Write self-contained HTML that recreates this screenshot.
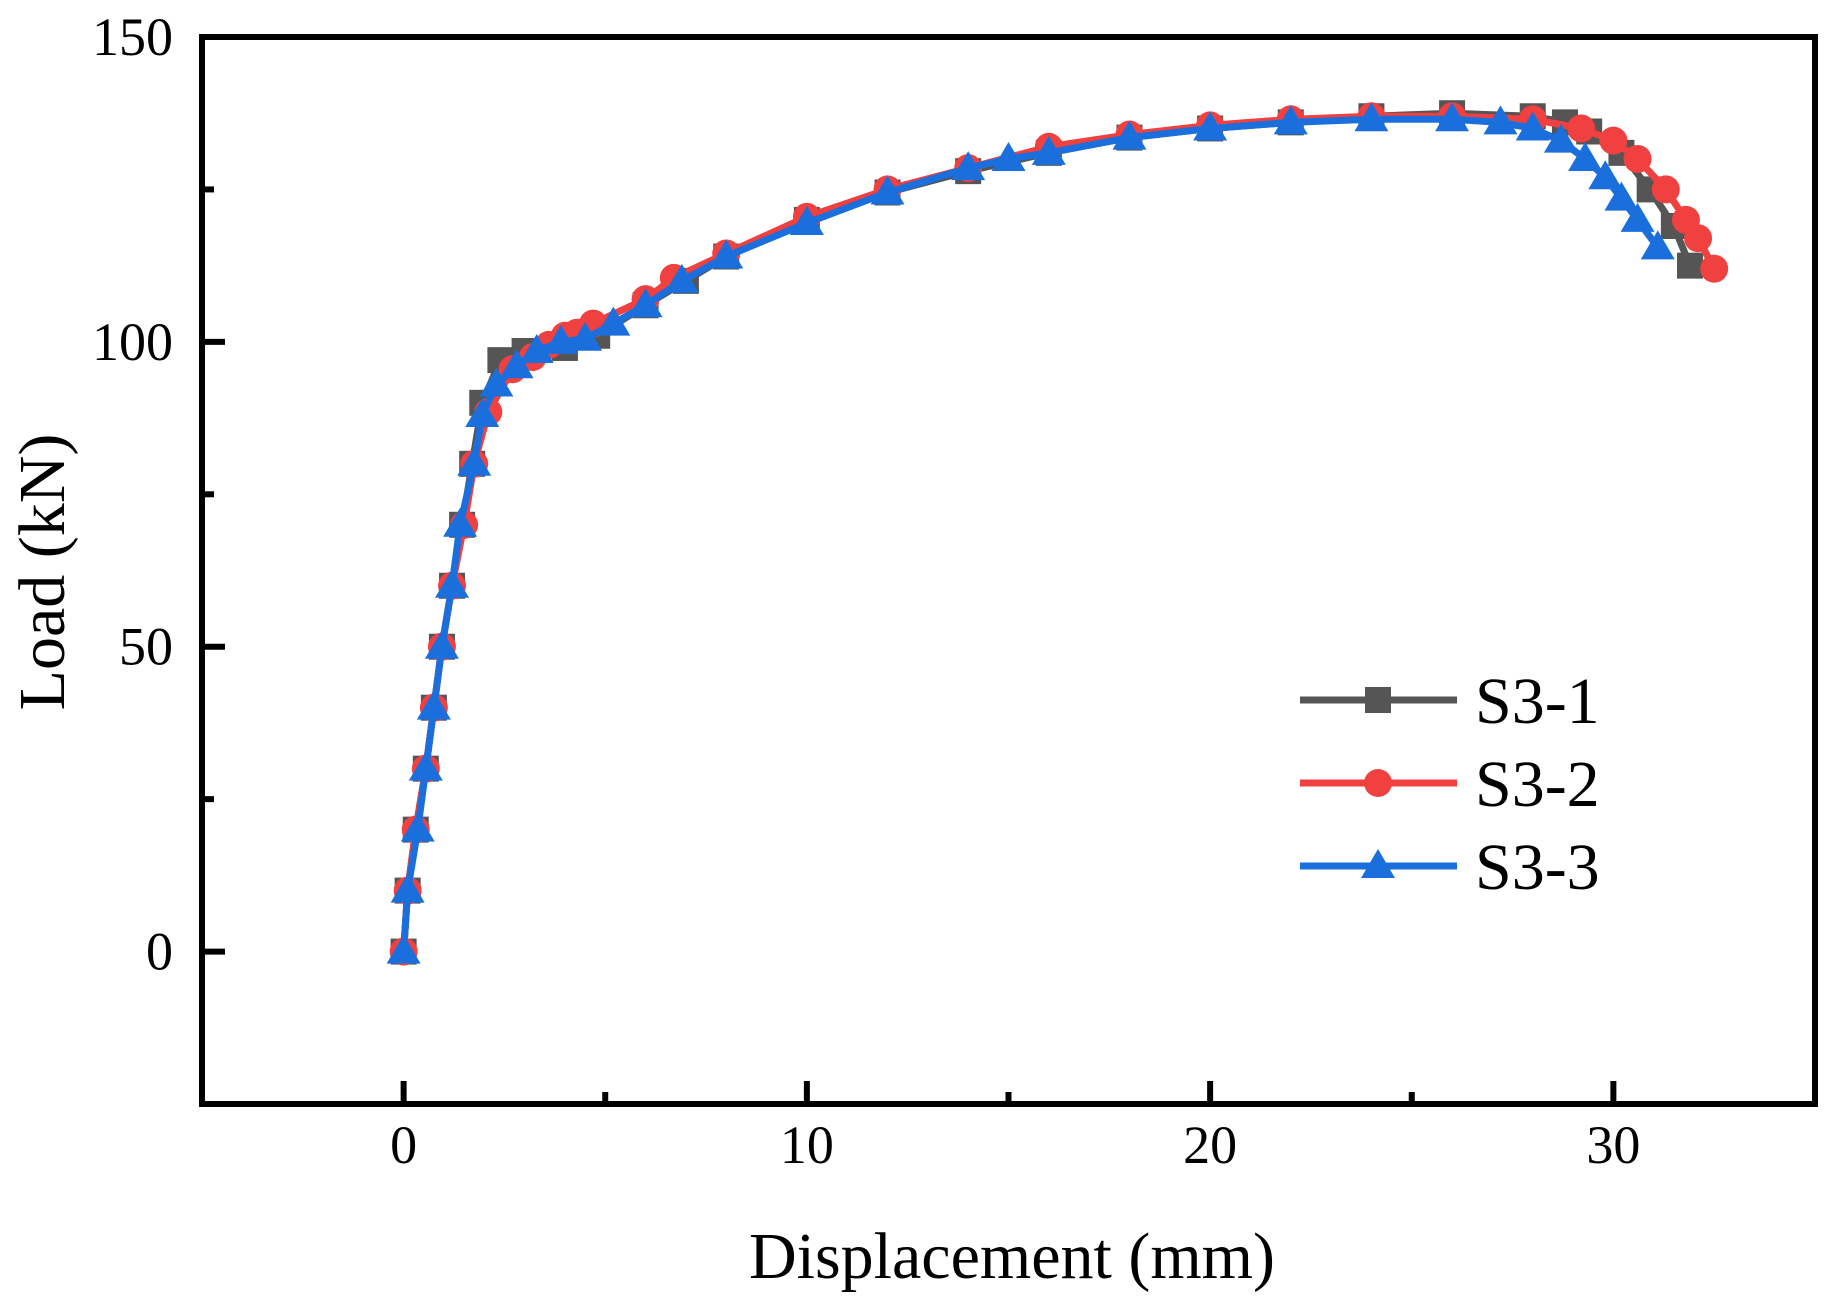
<!DOCTYPE html>
<html><head><meta charset="utf-8"><style>
html,body{margin:0;padding:0;background:#fff;}
svg{display:block;font-family:"Liberation Serif",serif;}
</style></head><body>
<svg id="chart" width="1839" height="1312" viewBox="0 0 1839 1312" xmlns="http://www.w3.org/2000/svg">
<g id="grid"></g>
<g id="series"></g>
<rect x="202" y="37" width="1613" height="1067" fill="none" stroke="#000" stroke-width="6"/>
<g id="axes"></g>
<text x="1012" y="1278" font-size="66" text-anchor="middle">Displacement (mm)</text>
<text x="0" y="0" font-size="66" text-anchor="middle" transform="translate(64,572) rotate(-90)">Load (kN)</text>
<g id="legend"></g>
</svg>
<script>
const xTicks=[0,10,20,30];
const xMinor=[-5,5,15,25,35];
const yTicks=[0,50,100,150];
const yMinor=[-25,25,75,125];
const seriesNames=["S3-1","S3-2","S3-3"];
const s1x=[0,0.1,0.3,0.55,0.75,0.95,1.2,1.45,1.7,1.95,2.4,3,4,4.8,6,7,8,10,12,14,16,18,20,22,24,26,28,28.8,29.4,30.2,30.9,31.5,31.9];
const s1y=[0,10,20,30,40,50,60,70,80,90,97,98.5,99,101,106,110,114,120,124.5,128,131,133.5,135,136,137,137.5,137,136,134.5,131,125,119,112.5];
const s2x=[0,0.1,0.3,0.55,0.75,0.95,1.2,1.5,1.75,2.1,2.7,3.2,3.6,4,4.3,4.7,6,6.7,8,10,12,14,16,18,20,22,24,26,28,29.2,30,30.6,31.3,31.8,32.1,32.5];
const s2y=[0,10,20,30,40,50,60,70,80,88.5,95.5,97.5,99.5,101,101.5,103,107,110.5,114.5,120.5,125,128.5,132,134,135.5,136.5,137,137,136.5,135,133,130,125,120,117,112];
const s3x=[0,0.1,0.35,0.55,0.75,0.95,1.2,1.4,1.75,1.95,2.3,2.8,3.3,3.9,4.5,5.2,6,6.9,8,10,12,14,15,16,18,20,22,24,26,27.2,28,28.7,29.3,29.8,30.2,30.6,31.1];
const s3y=[0,10,20,30,40,50,60,70,80,88,93,96,98.5,100,100.5,103,106,110,114,119.5,124.5,128.5,130,131,133.5,135,136,136.5,136.5,136,135,133,130,127,123.5,120,115.5];

const NS="http://www.w3.org/2000/svg";
const X0=202,X1=1815,Y0=37,Y1=1104;
const xMin=-5,xMax=35,yMin=-25,yMax=150;
function sx(v){return X0+(v-xMin)/(xMax-xMin)*(X1-X0);}
function sy(v){return Y1-(v-yMin)/(yMax-yMin)*(Y1-Y0);}
function mk(tag,attrs,parent){const e=document.createElementNS(NS,tag);for(const k in attrs)e.setAttribute(k,attrs[k]);parent.appendChild(e);return e;}
const axes=document.getElementById('axes');
xTicks.forEach(t=>{
  const l=mk('line',{x1:sx(t),x2:sx(t),y1:Y1,y2:Y1-23,stroke:'#000','stroke-width':6},axes);
  
  
  const tx=mk('text',{x:sx(t),y:1163,'font-size':54,'text-anchor':'middle'},axes);
  tx.textContent=t;
  
  
});
xMinor.forEach(t=>{
  const l=mk('line',{x1:sx(t),x2:sx(t),y1:Y1,y2:Y1-12,stroke:'#000','stroke-width':6},axes);
  
  
});
yTicks.forEach(t=>{
  const l=mk('line',{x1:X0,x2:X0+23,y1:sy(t),y2:sy(t),stroke:'#000','stroke-width':6},axes);
  
  
  const tx=mk('text',{x:173,y:sy(t)+18,'font-size':54,'text-anchor':'end'},axes);
  tx.textContent=t;
  
  
});
yMinor.forEach(t=>{
  const l=mk('line',{x1:X0,x2:X0+12,y1:sy(t),y2:sy(t),stroke:'#000','stroke-width':6},axes);
  
  
});
const colors=["#555555","#f04040","#1a6fdd"];
const shapes=["square","circle","triangle"];
function marker(g,shape,x,y,c){
  let m;
  if(shape==='square')m=mk('rect',{x:x-13,y:y-13,width:26,height:26,fill:c},g);
  else if(shape==='circle')m=mk('circle',{cx:x,cy:y,r:14,fill:c},g);
  else m=mk('polygon',{points:`${x},${y-17} ${x-17},${y+12} ${x+17},${y+12}`,fill:c},g);
  
  
}
const data=[[s1x,s1y],[s2x,s2y],[s3x,s3y]];
const sg=document.getElementById('series');
data.forEach((d,i)=>{
  const g=mk('g',{},sg);
  
  
  const pts=d[0].map((x,j)=>sx(x)+','+sy(d[1][j])).join(' ');
  const pl=mk('polyline',{points:pts,fill:'none',stroke:colors[i],'stroke-width':7,'stroke-linejoin':'round'},g);
  
  
  d[0].forEach((x,j)=>marker(g,shapes[i],sx(x),sy(d[1][j]),colors[i]));
});
const lg=document.getElementById('legend');


const ly=[700,783,866];
seriesNames.forEach((n,i)=>{
  const g=mk('g',{},lg);
  
  
  const l=mk('line',{x1:1300,x2:1457,y1:ly[i],y2:ly[i],stroke:colors[i],'stroke-width':7},g);
  
  
  marker(g,shapes[i],1378,ly[i],colors[i]);
  const t=mk('text',{x:1475,y:ly[i]+23,'font-size':66},g);
  t.textContent=n;
  
  
});
</script>
</body></html>
